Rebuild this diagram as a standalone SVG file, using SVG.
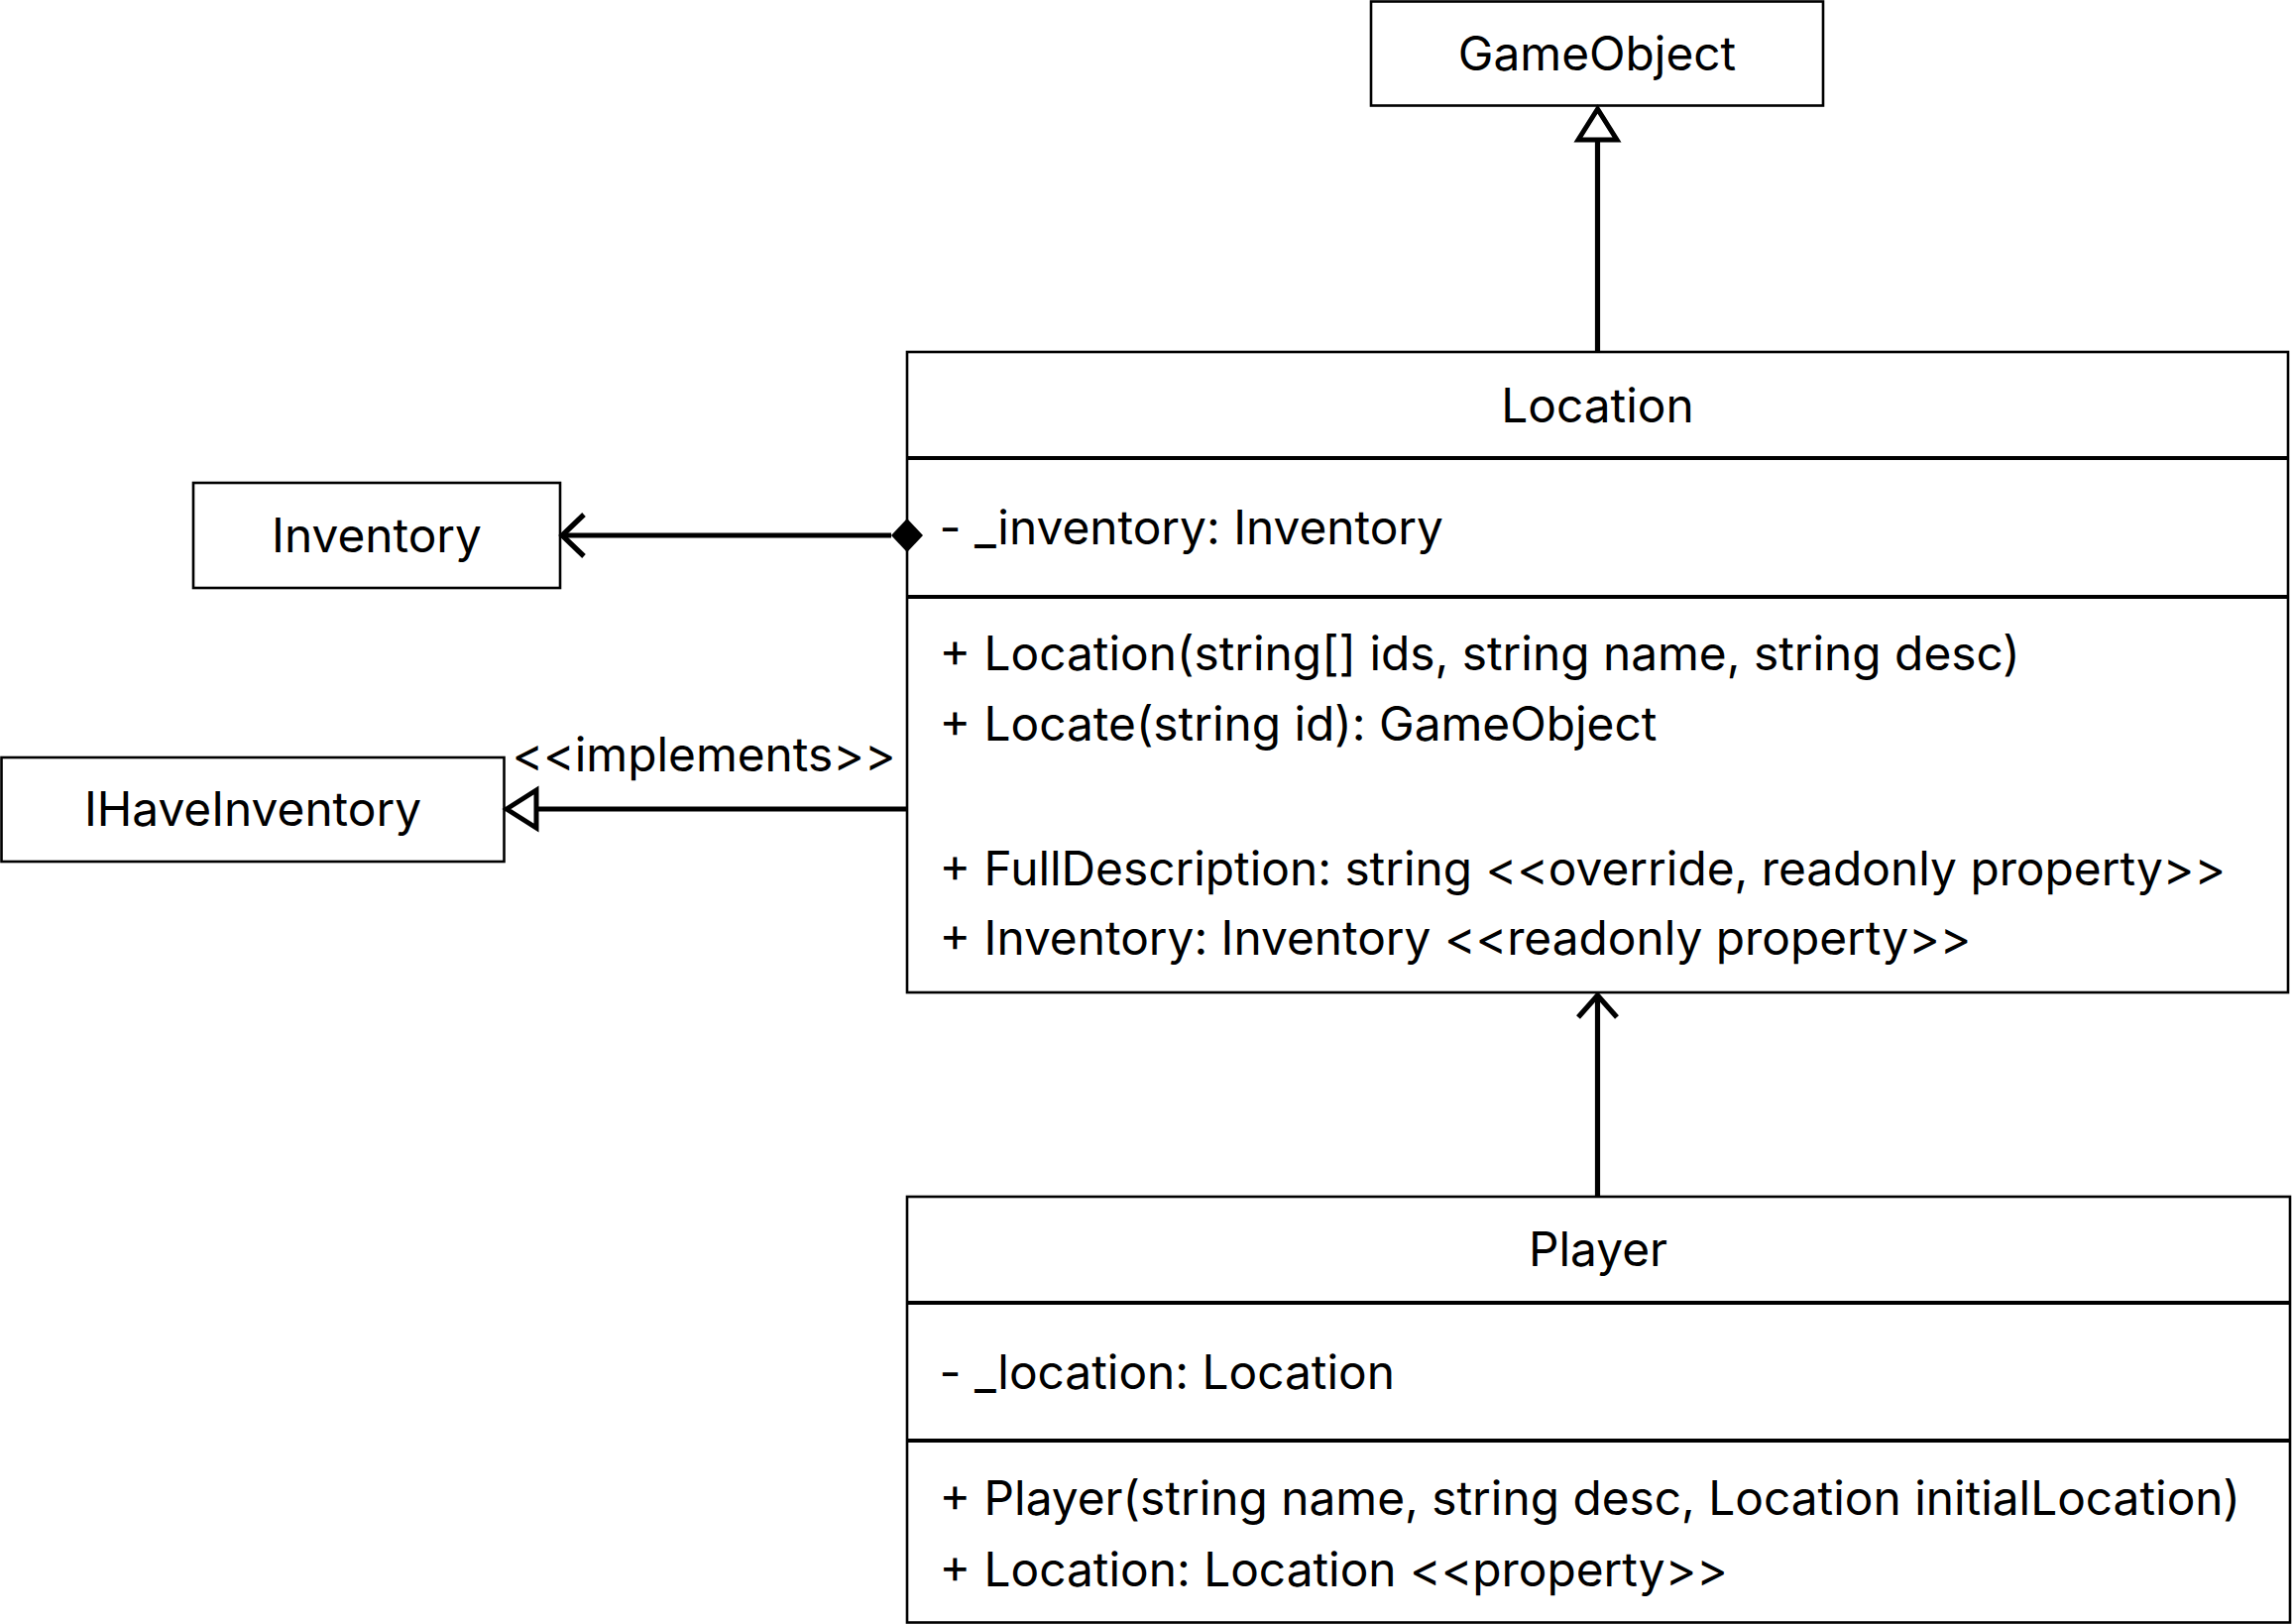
<svg xmlns="http://www.w3.org/2000/svg" width="2312" height="1638" viewBox="0 0 2312 1638">
<style>
.box{fill:#fff;stroke:#000;stroke-width:2.6}
.div{stroke:#000;stroke-width:4.2}
.t{font-family:Inter,"Noto Sans","Liberation Sans",sans-serif;font-size:47.8px;fill:#000}
.c{text-anchor:middle}
.ln{stroke:#000;stroke-width:5.2;fill:none}
</style>
<rect width="2312" height="1638" fill="#fff"/>
<g id="GameObject">
  <rect class="box" x="1383" y="1.5" width="456" height="105"/>
  <text class="t c" x="1611" y="71">GameObject</text>
</g>
<g id="Inventory">
  <rect class="box" x="195" y="487" width="370" height="106"/>
  <text class="t c" x="380" y="557">Inventory</text>
</g>
<g id="IHaveInventory">
  <rect class="box" x="1.5" y="764" width="507" height="105"/>
  <text class="t c" x="255" y="833">IHaveInventory</text>
</g>
<g id="Location">
  <rect class="box" x="915" y="355" width="1393" height="646"/>
  <line class="div" x1="915" y1="462" x2="2308" y2="462"/>
  <line class="div" x1="915" y1="602" x2="2308" y2="602"/>
  <text class="t c" x="1611.5" y="426">Location</text>
  <text class="t" x="947.5" y="549">- _inventory: Inventory</text>
  <text class="t" x="947.5" y="676">+ Location(string[] ids, string name, string desc)</text>
  <text class="t" x="947.5" y="747">+ Locate(string id): GameObject</text>
  <text class="t" x="947.5" y="893">+ FullDescription: string &lt;&lt;override, readonly property&gt;&gt;</text>
  <text class="t" x="947.5" y="963">+ Inventory: Inventory &lt;&lt;readonly property&gt;&gt;</text>
</g>
<g id="Player">
  <rect class="box" x="915" y="1207" width="1395" height="429.5"/>
  <line class="div" x1="915" y1="1314" x2="2310" y2="1314"/>
  <line class="div" x1="915" y1="1453" x2="2310" y2="1453"/>
  <text class="t c" x="1612" y="1277">Player</text>
  <text class="t" x="947.5" y="1401">- _location: Location</text>
  <text class="t" x="947.5" y="1528">+ Player(string name, string desc, Location initialLocation)</text>
  <text class="t" x="947.5" y="1600">+ Location: Location &lt;&lt;property&gt;&gt;</text>
</g>
<g id="connectors">
  <line class="ln" x1="1611.5" y1="355" x2="1611.5" y2="141"/>
  <polygon points="1611.5,110 1592,141 1631,141" fill="#fff" stroke="#000" stroke-width="5"/>
  <line class="ln" x1="1611.5" y1="1207" x2="1611.5" y2="1004"/>
  <polyline class="ln" points="1592,1026 1611.5,1004 1631,1026"/>
  <line class="ln" x1="568" y1="540" x2="899" y2="540"/>
  <polyline class="ln" points="589,519 567,540 589,561"/>
  <polygon points="899,540 915,523 931,540 915,557" fill="#000"/>
  <line class="ln" x1="541" y1="816" x2="914" y2="816"/>
  <polygon points="511,816 541,797 541,835" fill="#fff" stroke="#000" stroke-width="5"/>
  <text class="t c" x="710" y="778">&lt;&lt;implements&gt;&gt;</text>
</g>
</svg>
